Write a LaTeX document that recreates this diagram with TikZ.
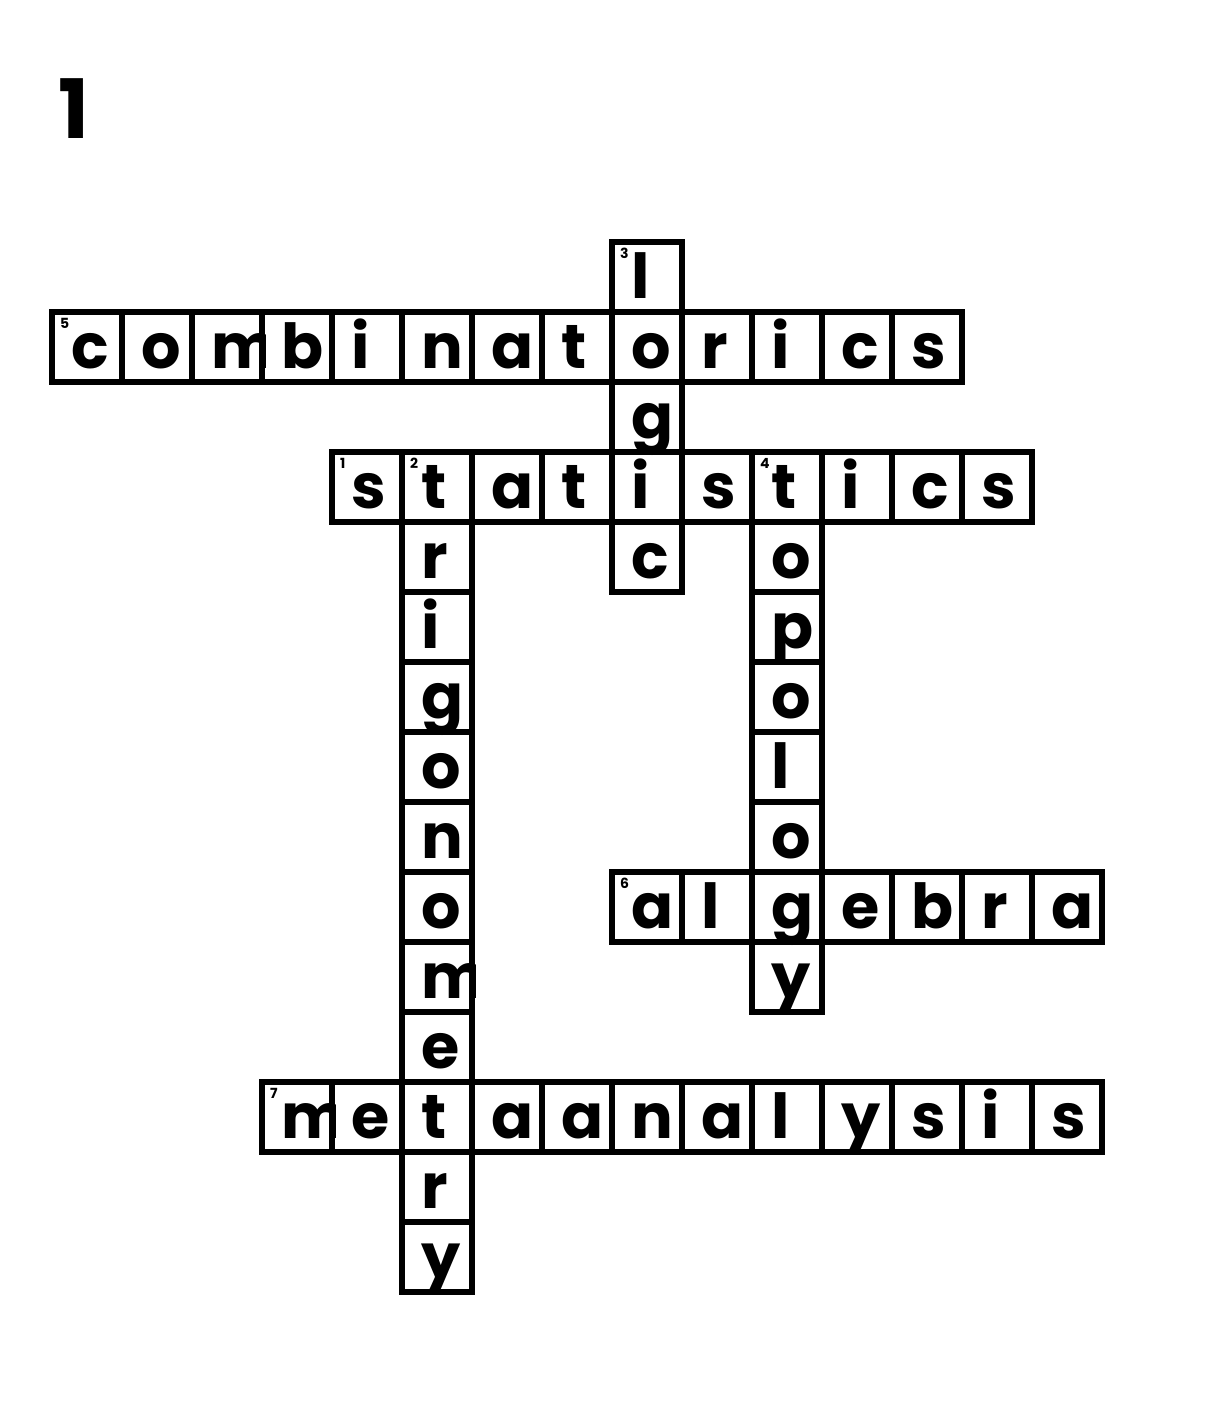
\documentclass[tikz,border=0pt]{standalone}
\usepackage{fontspec}
\setmainfont{Poppins}
\begin{document}
\begin{tikzpicture}[x=1pt,y=-1pt,
  cellbox/.style={draw=black,line width=6pt,minimum size=70pt,inner sep=0pt,outer sep=0pt},
  letter/.style={anchor=base west,inner sep=0pt,outer sep=0pt,font=\fontsize{62}{62}\selectfont\bfseries},
  clue/.style={anchor=base west,inner sep=0pt,outer sep=0pt,font=\fontsize{14}{14}\selectfont\bfseries},
  title/.style={anchor=base west,inner sep=0pt,outer sep=0pt,font=\fontsize{82}{82}\selectfont\bfseries}]
\useasboundingbox (0,0) rectangle (1225,1414);
\fill[white] (0,0) rectangle (1225,1414);
\node[title] (title) at (58,138) {1};
\newcommand\putletter[3]{% col, row, letter
  \begin{scope}
    \clip ({52+70*#1-3},{242+70*#2-3}) rectangle ({52+70*#1+73},{242+70*#2+73});
    \node[letter] (let-#1-#2) at ({52+70*#1+19},{242+70*#2+56}) {#3};
  \end{scope}
}
\newcommand\acrossletters[3]{% row, start col, letters
  \foreach \ch [count=\i from 0] in {#3} {%
    \pgfmathtruncatemacro\kk{#2+\i}%
    \putletter{\kk}{#1}{\ch}
  }%
}
\newcommand\downletters[3]{% start row, col, letters
  \foreach \ch [count=\i from 0] in {#3} {%
    \pgfmathtruncatemacro\rr{#1+\i}%
    \ifx\ch\empty\else
    \putletter{#2}{\rr}{\ch}
    \fi
  }%
}
\newcommand\acrossword[3]{% row, start col, length
  \foreach \i in {1,...,#3} {%
    \pgfmathtruncatemacro\kk{#2+\i-1}%
    \node[cellbox] (cell-\kk-#1) at ({52+70*\kk+35},{242+70*#1+35}) {};
  }%
}
\newcommand\downword[3]{% start row, col, length
  \foreach \i in {1,...,#3} {%
    \pgfmathtruncatemacro\rr{#1+\i-1}%
    \node[cellbox] (cell-#2-\rr) at ({52+70*#2+35},{242+70*\rr+35}) {};
  }%
}
\newcommand\cluenum[3]{% row, col, number
  \node[clue] (num-#3) at ({52+70*#2+8},{242+70*#1+16}) {#3};
}
% letters
\acrossletters{1}{0}{c,o,m,b,i,n,a,t,o,r,i,c,s}
\acrossletters{3}{4}{s,t,a,t,i,s,t,i,c,s}
\acrossletters{9}{8}{a,l,g,e,b,r,a}
\acrossletters{12}{3}{m,e,t,a,a,n,a,l,y,s,i,s}
\downletters{0}{8}{l,,g,,c}
\downletters{3}{5}{,r,i,g,o,n,o,m,e,,r,y}
\downletters{3}{10}{,o,p,o,l,o,,y}
% cells
\acrossword{1}{0}{13}
\acrossword{3}{4}{10}
\acrossword{9}{8}{7}
\acrossword{12}{3}{12}
\downword{0}{8}{5}
\downword{3}{5}{12}
\downword{3}{10}{8}
% clue numbers
\cluenum{3}{4}{1}
\cluenum{3}{5}{2}
\cluenum{0}{8}{3}
\cluenum{3}{10}{4}
\cluenum{1}{0}{5}
\cluenum{9}{8}{6}
\cluenum{12}{3}{7}
\end{tikzpicture}
\end{document}
